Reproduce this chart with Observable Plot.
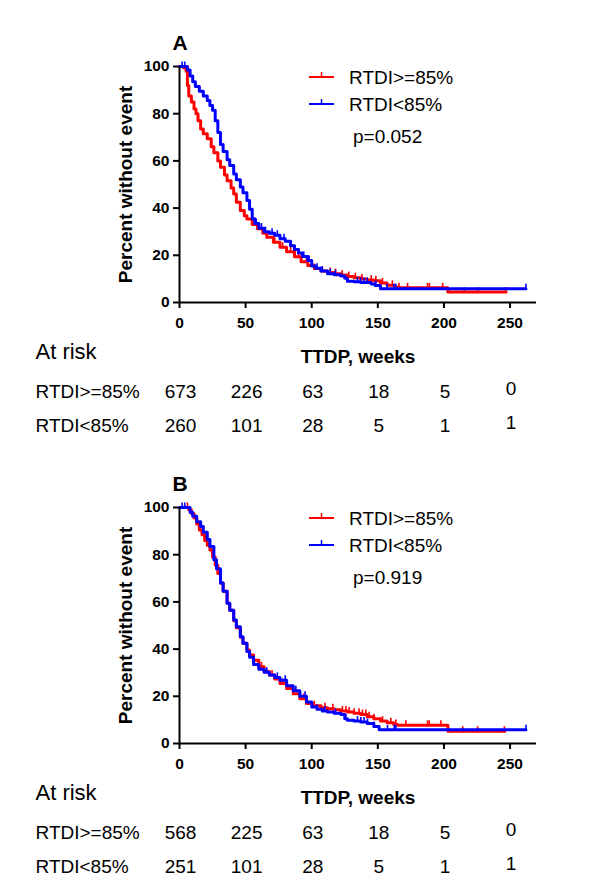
<!DOCTYPE html>
<html>
<head>
<meta charset="utf-8">
<script src="https://cdn.jsdelivr.net/npm/d3@7"></script>
<script src="https://cdn.jsdelivr.net/npm/@observablehq/plot@0.6"></script>
<style>
  html, body { margin: 0; padding: 0; background: #fff; }
  #chart svg { display: block; }
</style>
</head>
<body>
<div id="chart"></div>
<script>
// ---------- data ----------
const xTicks = [0, 50, 100, 150, 200, 250];
const yTicks = [0, 20, 40, 60, 80, 100];
const seriesNames = ["RTDI>=85%", "RTDI<85%"];
const riskWeeks = [0, 50, 100, 150, 200, 250];

// Panel A — Kaplan-Meier steps [week, percent]
const aRed = [[0,100],[3,99.5],[5,98],[6,92],[7,87.5],[9,85],[11,82],[12.5,80],[14,77],[16,73.5],[18,71.5],[21,69.4],[24,66],[26,63.5],[29,60],[31,57.3],[34,54],[36,51.6],[39,48.5],[41,46],[43,42.5],[46,39],[49,36.8],[51,35.4],[55,33],[59,31.2],[63,29.3],[66,27.7],[71,25.5],[76,23.4],[81,21.5],[87,19.4],[92,17.3],[97,15.7],[102,14.4],[107,13.3],[112,12.7],[117,12.2],[122,11.6],[127,11],[132,10.5],[137,10],[142,9.5],[147,9.2],[152,8.3],[157,7.3],[163,6.5],[166,6.2],[203,4.4],[247,4.4]];
const aBlue = [[0,100],[4,100],[6,98.5],[8,96],[10,93.5],[12,91.5],[15,89.5],[18,87.5],[21,85.6],[23,83.5],[25,81.5],[27,77],[29,72],[31,67],[33,64],[36,60.5],[38,58],[41,54.5],[43,52],[46,48.9],[48,46.5],[51,43.2],[53,39.5],[55,35.5],[57,33.5],[60,31.5],[64,30],[68,29.3],[72,28.5],[76,27],[80,26],[84,24],[87,22.5],[90,21],[93,19.5],[97,17.8],[100,15.5],[103,14.5],[107,13.3],[112,12.2],[117,11.8],[122,11.2],[125,10.3],[127,9],[132,8.8],[137,8.5],[145,7.8],[148,7.2],[152,5.8],[262,5.8]];
const aRedCensor = [60,66,72,78,84,90,96,102,108,114,118,123,128,133,138,145,148.5,153.5,161,166,172.5,187.6,189,199,215.4,225.5,247];
const aBlueCensor = [2,4,58,62,65,70,74,79,84,90,94,98,104,108,114,118,134.6,137,139.6,142,148.5,157,162,163.6,262];
const aRiskRed = [673, 226, 63, 18, 5, 0];
const aRiskBlue = [260, 101, 28, 5, 1, 1];
const aP = "p=0.052";

// Panel B
const bRed = [[0,100],[5,100],[7,99],[9,97.5],[11,95.5],[13,93],[15,90.5],[17,88.5],[19,86],[21,84],[23,82],[25,79],[27,75.5],[29,72],[31,68],[33,64.5],[36,59.4],[38,56.5],[41,52],[43,49],[46,45],[48,42.5],[51,39.6],[53,37.5],[56,35.3],[60,32.5],[64,30.5],[68,29],[72,27.3],[76,25.4],[81,23.3],[86,21.1],[91,19],[96,17],[101,16],[107,15.2],[112,14.7],[117,14.3],[122,13.8],[127,13.3],[132,12.8],[137,12.3],[142,11.3],[147,10.5],[152,9.5],[157,8.8],[162,8],[165,7.7],[203,5.2],[246,5.2]];
const bBlue = [[0,100],[6,100],[8,98],[10,96.3],[13,94],[16,92],[18,89.5],[21,86.4],[23,83.5],[26,77.9],[28,74],[31,68],[33,64.5],[36,59.4],[38,56.5],[41,52.3],[43,49.5],[46,45.2],[48,42.5],[51,39],[53,36.5],[56,33.5],[60,31.5],[64,30.2],[68,29],[72,28],[76,26.8],[81,24.5],[86,22.3],[91,20],[96,17.6],[100,15.5],[104,14.5],[108,13.8],[112,13.3],[117,12.8],[122,12.3],[125,10.5],[127,9.8],[132,9.5],[137,9.1],[142,8.5],[147,7.2],[151,5.8],[262,5.8]];
const bRedCensor = [6,62,70,78,86,94,102,110,116,123.2,125.8,128.3,132,135.8,138.4,140.9,143.4,147.2,153.5,159.8,163.6,171.2,187.6,188.9,197.7,214.2,225.5,245.7];
const bBlueCensor = [2,4,60,66,74,80,88,95,104,110,118,125.8,134.6,137.1,139.6,142.2,147.2,157.3,162.4,163.6,262.1];
const bRiskRed = [568, 225, 63, 18, 5, 0];
const bRiskBlue = [251, 101, 28, 5, 1, 1];
const bP = "p=0.919";

// ---------- styling ----------
const RED = "#ff0000", BLUE = "#0000ff";
const FONT = "'Liberation Sans', Arial, Helvetica, sans-serif";

function survAt(km, w) {
  let p = km[0][1];
  for (const [x, y] of km) if (x <= w) p = y;
  return p;
}
const tickUp = { draw(ctx) { ctx.moveTo(0, 1); ctx.lineTo(0, -5); } };

function panel(letter, red, blue, redC, blueC, riskR, riskB, pText) {
  const toObj = km => km.map(([w, p]) => ({w, p}));
  const cens = (km, arr) => arr.map(w => ({w, p: survAt(km, w)}));
  const riskRows = (vals) => riskWeeks.map((w, i) => ({w, n: String(vals[i]), last: i === riskWeeks.length - 1}));

  const legend = () => {
    const g = d3.create("svg:g").attr("font-family", FONT);
    const items = [[RED, seriesNames[0], 77], [BLUE, seriesNames[1], 104]];
    for (const [c, name, y] of items) {
      g.append("line").attr("x1", 309).attr("x2", 334).attr("y1", y).attr("y2", y)
        .attr("stroke", c).attr("stroke-width", 2);
      g.append("line").attr("x1", 321.5).attr("x2", 321.5).attr("y1", y).attr("y2", y - 5)
        .attr("stroke", c).attr("stroke-width", 1.5);
      g.append("text").attr("x", 349).attr("y", y).attr("dy", "0.35em")
        .attr("text-anchor", "start")
        .attr("font-size", 19).attr("fill", "black").text(name);
    }
    g.append("text").attr("x", 353).attr("y", 136).attr("dy", "0.35em")
      .attr("text-anchor", "start")
      .attr("font-size", 19).attr("fill", "black").text(pText);
    g.append("text").attr("x", 180).attr("y", 43).attr("dy", "0.35em")
      .attr("text-anchor", "middle").attr("font-size", 21).attr("font-weight", "bold")
      .attr("fill", "black").text(letter);
    return g.node();
  };

  return Plot.plot({
    width: 600,
    height: 441,
    marginLeft: 179,
    marginRight: 64,
    marginTop: 66,
    marginBottom: 139,
    x: { domain: [0, 270] },
    y: { domain: [0, 100] },
    style: { fontFamily: FONT, color: "black", background: "white", overflow: "visible" },
    marks: [
      Plot.axisX({ ticks: xTicks, tickSize: 6, tickPadding: 8, fontSize: 15.5, fontWeight: "bold", label: null, strokeWidth: 2 }),
      Plot.axisY({ ticks: yTicks, tickSize: 6, tickPadding: 4, fontSize: 15.5, fontWeight: "bold", label: null, strokeWidth: 2 }),
      Plot.line(toObj(red), { x: "w", y: "p", curve: "step-after", stroke: RED, strokeWidth: 3 }),
      Plot.dot(cens(red, redC), { x: "w", y: "p", symbol: tickUp, stroke: RED, strokeWidth: 1.6, fill: "none" }),
      Plot.line(toObj(blue), { x: "w", y: "p", curve: "step-after", stroke: BLUE, strokeWidth: 3 }),
      Plot.dot(cens(blue, blueC), { x: "w", y: "p", symbol: tickUp, stroke: BLUE, strokeWidth: 1.6, fill: "none" }),
      Plot.ruleX([0], { strokeWidth: 2 }),
      Plot.ruleY([0], { strokeWidth: 2 }),
      // axis titles
      Plot.text(["Percent without event"], { text: d => d, frameAnchor: "left", dx: -54, rotate: -90, textAnchor: "middle", lineAnchor: "middle", fontSize: 19, fontWeight: "bold" }),
      Plot.text(["TTDP, weeks"], { text: d => d, frameAnchor: "bottom", dy: 54, textAnchor: "middle", lineAnchor: "middle", fontSize: 19, fontWeight: "bold" }),
      // at-risk table
      Plot.text(["At risk"], { text: d => d, frameAnchor: "bottom-left", dx: -144, dy: 49, textAnchor: "start", lineAnchor: "middle", fontSize: 22 }),
      Plot.text([seriesNames[0]], { text: d => d, frameAnchor: "bottom-left", dx: -144, dy: 89, textAnchor: "start", lineAnchor: "middle", fontSize: 19 }),
      Plot.text([seriesNames[1]], { text: d => d, frameAnchor: "bottom-left", dx: -144, dy: 123, textAnchor: "start", lineAnchor: "middle", fontSize: 19 }),
      Plot.text(riskRows(riskR).filter(d => !d.last), { x: "w", text: "n", frameAnchor: "bottom", dy: 89, textAnchor: "middle", lineAnchor: "middle", fontSize: 19, dx: 1 }),
      Plot.text(riskRows(riskR).filter(d => d.last), { x: "w", text: "n", frameAnchor: "bottom", dy: 86, textAnchor: "middle", lineAnchor: "middle", fontSize: 19, dx: 1 }),
      Plot.text(riskRows(riskB).filter(d => !d.last), { x: "w", text: "n", frameAnchor: "bottom", dy: 123, textAnchor: "middle", lineAnchor: "middle", fontSize: 19, dx: 1 }),
      Plot.text(riskRows(riskB).filter(d => d.last), { x: "w", text: "n", frameAnchor: "bottom", dy: 120, textAnchor: "middle", lineAnchor: "middle", fontSize: 19, dx: 1 }),
      legend
    ]
  });
}

const chart = document.getElementById("chart");
chart.append(panel("A", aRed, aBlue, aRedCensor, aBlueCensor, aRiskRed, aRiskBlue, aP));
chart.append(panel("B", bRed, bBlue, bRedCensor, bBlueCensor, bRiskRed, bRiskBlue, bP));
</script>
</body>
</html>
